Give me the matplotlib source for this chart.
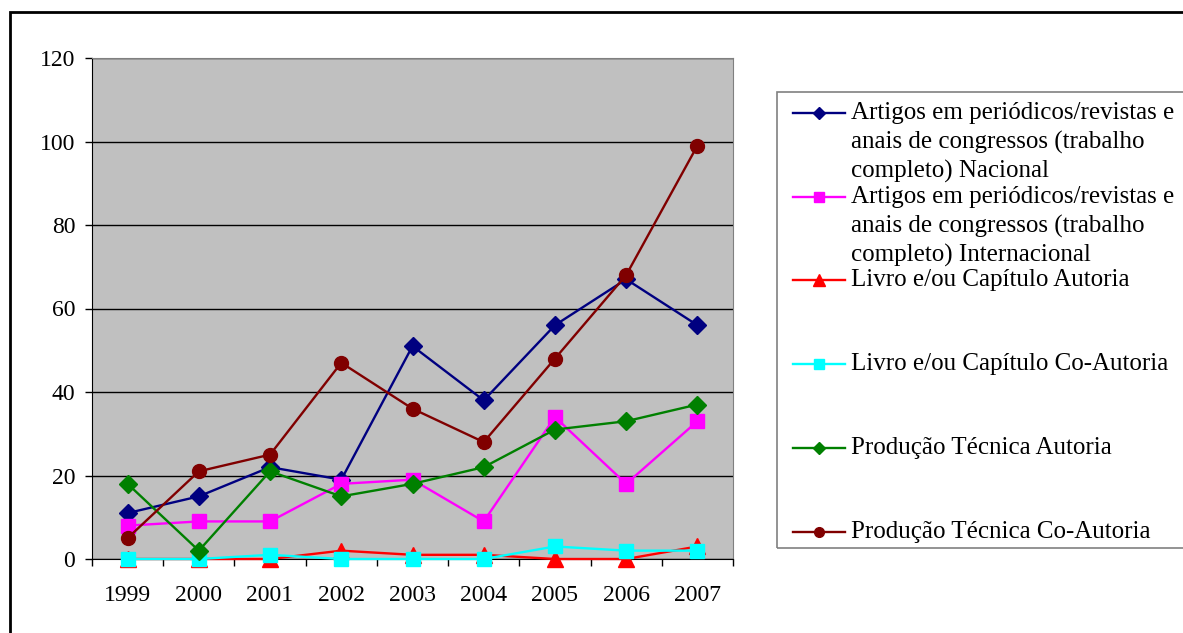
import numpy as np
import matplotlib.pyplot as plt
from matplotlib.lines import Line2D
from matplotlib.patches import Rectangle

plt.rcParams['font.family'] = ['Liberation Serif', 'DejaVu Serif']

anos = ['1999', '2000', '2001', '2002', '2003', '2004', '2005', '2006', '2007']

artigos_nacional = [11, 15, 22, 19, 51, 38, 56, 67, 56]
artigos_internacional = [8, 9, 9, 18, 19, 9, 34, 18, 33]
livro_autoria = [0, 0, 0, 2, 1, 1, 0, 0, 3]
livro_coautoria = [0, 0, 1, 0, 0, 0, 3, 2, 2]
tecnica_autoria = [18, 2, 21, 15, 18, 22, 31, 33, 37]
tecnica_coautoria = [5, 21, 25, 47, 36, 28, 48, 68, 99]

rotulos = [
    ['Artigos em periódicos/revistas e', 'anais de congressos (trabalho', 'completo) Nacional'],
    ['Artigos em periódicos/revistas e', 'anais de congressos (trabalho', 'completo) Internacional'],
    ['Livro e/ou Capítulo Autoria'],
    ['Livro e/ou Capítulo Co-Autoria'],
    ['Produção Técnica Autoria'],
    ['Produção Técnica Co-Autoria'],
]

series = [artigos_nacional, artigos_internacional, livro_autoria,
          livro_coautoria, tecnica_autoria, tecnica_coautoria]
cores = ['#000080', '#FF00FF', '#FF0000', '#00FFFF', '#008000', '#800000']
marcadores = ['D', 's', '^', 's', 'D', 'o']
tamanhos = [9.5, 9.5, 11, 9.5, 9.5, 10]
tam_legenda = [6, 6.5, 8, 6.5, 6, 7]

W, H = 1183, 633
fig = plt.figure(figsize=(W / 100, H / 100), dpi=100)

def fx(px):
    return px / W

def fy(py):
    return 1 - py / H

ax = fig.add_axes([fx(92), fy(559), fx(733) - fx(92), fy(58) - fy(559)])
ax.set_facecolor('#C0C0C0')

x = np.arange(len(anos))
for i, vals in enumerate(series):
    ax.plot(x, vals, color=cores[i], marker=marcadores[i], markersize=tamanhos[i],
            linewidth=1.7, clip_on=False, zorder=3 + i)

ax.set_xlim(-0.5, len(anos) - 0.5)
ax.set_ylim(0, 120)
ax.set_yticks(np.arange(0, 121, 20))
ax.yaxis.grid(True, color='black', linewidth=1)
ax.set_axisbelow(True)

ax.set_xticks(np.arange(-0.5, len(anos), 1))
ax.set_xticklabels([])
ax.set_xticks(x, minor=True)
ax.set_xticklabels(anos, minor=True)
ax.tick_params(axis='x', which='major', direction='out', length=5, width=1)
ax.tick_params(axis='x', which='minor', length=0, pad=18.5, labelsize=17)
ax.tick_params(axis='y', direction='out', length=5, width=1, pad=7, labelsize=17)

for lado in ['top', 'right']:
    ax.spines[lado].set_color('#808080')
for lado in ['left', 'bottom']:
    ax.spines[lado].set_color('black')

# moldura externa
fig.patches.append(Rectangle((fx(10), -0.1), 1.2, fy(12) + 0.1, transform=fig.transFigure,
                             fill=False, edgecolor='black', linewidth=2))

# caixa da legenda
fig.patches.append(Rectangle((fx(777), fy(548)), 1.0, fy(92) - fy(548), transform=fig.transFigure,
                             fill=False, edgecolor='#808080', linewidth=1.2))

y0 = 112.7
passo = 83.8
for i, linhas in enumerate(rotulos):
    yl = y0 + passo * i
    fig.add_artist(Line2D([fx(793), fx(845)], [fy(yl), fy(yl)], color=cores[i],
                          linewidth=1.7, transform=fig.transFigure))
    fig.add_artist(Line2D([fx(819)], [fy(yl)], color=cores[i], marker=marcadores[i],
                          markersize=tam_legenda[i], transform=fig.transFigure))
    for j, linha in enumerate(linhas):
        fig.text(fx(851), fy(yl + 29.5 * j), linha, fontsize=18, va='center', ha='left')

fig.savefig('out.png', dpi=100)
